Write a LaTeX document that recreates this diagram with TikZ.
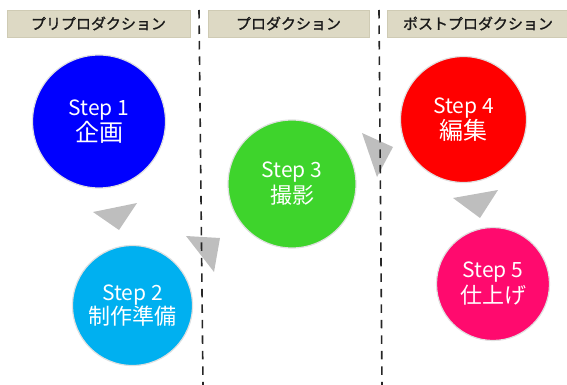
\documentclass[tikz,border=0pt]{standalone}
\usepackage{fontspec}
\setmainfont{Noto Sans CJK JP}
\newfontfamily\hdrfont[FakeBold=1.2]{Noto Sans CJK JP}
\definecolor{hdrfill}{HTML}{DDD9C4}
\definecolor{hdrdraw}{HTML}{CFCBB4}
\definecolor{hdrtext}{HTML}{1A1A1A}
\definecolor{arrowgray}{HTML}{BEBEBE}
\definecolor{c1}{HTML}{0000FF}
\definecolor{c2}{HTML}{00B0F0}
\definecolor{c3}{HTML}{3ED42C}
\definecolor{c4}{HTML}{FF0000}
\definecolor{c5}{HTML}{FF0A6E}
\tikzset{
  hdr/.style={fill=hdrfill, draw=hdrdraw, line width=0.6pt, text=hdrtext,
    font=\hdrfont\fontsize{15}{18}\selectfont, inner sep=0pt},
  stepcircle/.style={circle, draw=black!12, line width=1.2pt, text=white,
    align=center, inner sep=0pt, font=\fontsize{21}{27}\selectfont},
  sep/.style={draw=black!85, line width=1.6pt, dash pattern=on 8.5pt off 7pt},
  tri/.style={fill=arrowgray, draw=none}
}
\begin{document}
\begin{tikzpicture}[x=1pt, y=-1pt]
\useasboundingbox (0,0) rectangle (567,385);
% header bars
\node[hdr, minimum width=183pt, minimum height=27pt] (h1) at (98.5,23.5) {プリプロダクション};
\node[hdr, minimum width=161pt, minimum height=27pt] (h2) at (288.5,23.5) {プロダクション};
\node[hdr, minimum width=182pt, minimum height=27pt] (h3) at (478,23.5) {ポストプロダクション};
% arrows (triangles)
\fill[tri] (93,212) -- (137,203) -- (119,230) -- cycle;
\fill[tri] (186,236) -- (220,238) -- (214,272) -- cycle;
\fill[tri] (362,133) -- (393,147) -- (377,177) -- cycle;
\fill[tri] (453,198) -- (498,190) -- (480,218) -- cycle;
% separators
\coordinate (d1a) at (199,10); \coordinate (d1b) at (203,385);
\coordinate (d2a) at (379,10); \coordinate (d2b) at (382,385);
\draw[sep] (d1a) -- (d1b);
\draw[sep] (d2a) -- (d2b);
% steps
\node[stepcircle, fill=c1, minimum size=133pt] (s1) at (99,121.5) {Step 1\\[-1pt]{\fontsize{24}{27}\selectfont 企画}};
\node[stepcircle, fill=c2, minimum size=120pt] (s2) at (132.5,305.5) {Step 2\\[-3pt]{\fontsize{22}{27}\selectfont 制作準備}};
\node[stepcircle, fill=c3, minimum size=128pt] (s3) at (292,184) {Step 3\\[-1pt]{\fontsize{22}{27}\selectfont 撮影}};
\node[stepcircle, fill=c4, minimum size=126pt] (s4) at (463.5,119.5) {Step 4\\[-1pt]{\fontsize{24}{27}\selectfont 編集}};
\node[stepcircle, fill=c5, minimum size=113pt] (s5) at (493,284) {Step 5\\[-1pt]{\fontsize{22}{27}\selectfont 仕上げ}};
\end{tikzpicture}
\end{document}
